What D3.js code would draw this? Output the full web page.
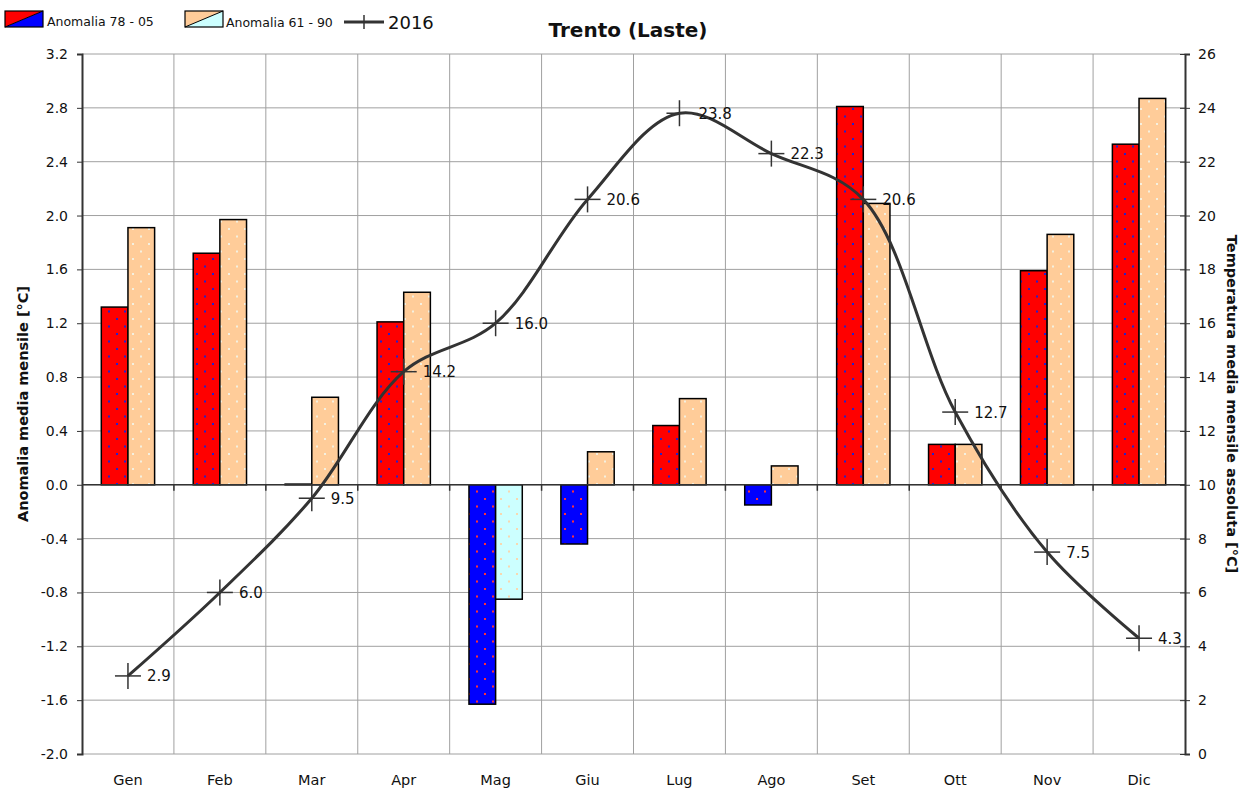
<!DOCTYPE html>
<html><head><meta charset="utf-8">
<script src="https://cdn.jsdelivr.net/npm/d3@7"></script>
<style>body{margin:0;background:#fff}svg{display:block;font-family:"DejaVu Sans",Verdana,sans-serif}</style>
</head><body><svg id="c" width="1241" height="790"></svg>
<script>
const months = ["Gen","Feb","Mar","Apr","Mag","Giu","Lug","Ago","Set","Ott","Nov","Dic"];
const anom7805 = [1.32, 1.72, 0.005, 1.21, -1.63, -0.44, 0.44, -0.15, 2.81, 0.30, 1.59, 2.53];
const anom6190 = [1.91, 1.97, 0.65, 1.43, -0.85, 0.245, 0.64, 0.14, 2.09, 0.30, 1.86, 2.87];
const temp2016 = [2.9, 6.0, 9.5, 14.2, 16.0, 20.6, 23.8, 22.3, 20.6, 12.7, 7.5, 4.3];
const leftTicks = [-2.0,-1.6,-1.2,-0.8,-0.4,0.0,0.4,0.8,1.2,1.6,2.0,2.4,2.8,3.2];
const rightTicks = [0,2,4,6,8,10,12,14,16,18,20,22,24,26];

const svg = d3.select("#c");
const L = 82, R = 1185, T = 54, B = 754;
const x = d3.scaleBand().domain(months).range([L, R]);
const yL = d3.scaleLinear().domain([-2.0, 3.2]).range([B, T]);
const yR = d3.scaleLinear().domain([0, 26]).range([B, T]);

// patterns
const defs = svg.append("defs");
function pat(id, bg, dot) {
  const p = defs.append("pattern").attr("id", id).attr("patternUnits","userSpaceOnUse")
    .attr("width", 16).attr("height", 15);
  p.append("rect").attr("width",16).attr("height",15).attr("fill",bg);
  p.append("rect").attr("x",4).attr("y",3).attr("width",2).attr("height",2).attr("fill",dot);
  p.append("rect").attr("x",12).attr("y",10.5).attr("width",2).attr("height",2).attr("fill",dot);
}
pat("pRed", "#FF0000", "#2222CC");
pat("pBlue", "#0000FF", "#FF3333");
pat("pPeach", "#FFCC99", "#F4F0E0");
pat("pCyan", "#CCFFFF", "#F8D8B0");

// grid
const g = svg.append("g");
g.selectAll("line.h").data(leftTicks).join("line")
  .attr("x1", L).attr("x2", R).attr("y1", d => yL(d)).attr("y2", d => yL(d))
  .attr("stroke", "#a0a0a0").attr("stroke-width", 1);
g.selectAll("line.v").data(months.slice(1)).join("line")
  .attr("x1", d => x(d)).attr("x2", d => x(d)).attr("y1", T).attr("y2", B)
  .attr("stroke", "#a0a0a0").attr("stroke-width", 1);

// bars
const bw = x.bandwidth() * 0.29;
const bars = svg.append("g");
bars.selectAll("rect.a").data(months).join("rect")
  .attr("x", d => x(d) + x.bandwidth()/2 - bw)
  .attr("y", (d,i) => yL(Math.max(0, anom7805[i])))
  .attr("width", bw)
  .attr("height", (d,i) => Math.abs(yL(anom7805[i]) - yL(0)))
  .attr("fill", (d,i) => anom7805[i] < 0 ? "url(#pBlue)" : "url(#pRed)")
  .attr("stroke", "#000").attr("stroke-width", 1.5);
bars.selectAll("rect.b").data(months).join("rect")
  .attr("x", d => x(d) + x.bandwidth()/2)
  .attr("y", (d,i) => yL(Math.max(0, anom6190[i])))
  .attr("width", bw)
  .attr("height", (d,i) => Math.abs(yL(anom6190[i]) - yL(0)))
  .attr("fill", (d,i) => anom6190[i] < 0 ? "url(#pCyan)" : "url(#pPeach)")
  .attr("stroke", "#000").attr("stroke-width", 1.5);

// zero axis
svg.append("line").attr("x1", L).attr("x2", R).attr("y1", yL(0)).attr("y2", yL(0))
  .attr("stroke", "#333").attr("stroke-width", 1.5);
svg.append("g").selectAll("line").data(months.slice(1)).join("line")
  .attr("x1", d => x(d)).attr("x2", d => x(d)).attr("y1", yL(0)).attr("y2", yL(0)+6)
  .attr("stroke", "#333").attr("stroke-width", 1.5);

const fmt = d => d.toFixed(1);
// left axis
const axL = svg.append("g").attr("transform", `translate(${L},0)`)
  .call(d3.axisLeft(yL).tickValues(leftTicks).tickFormat(fmt).tickSize(5).tickPadding(9));
axL.select(".domain").attr("stroke", "#333").attr("stroke-width", 2);
axL.selectAll(".tick line").attr("stroke", "#333");
axL.selectAll("text").attr("font-size", 14).attr("fill", "#111").attr("font-family", "DejaVu Sans");

// right axis
const axR = svg.append("g").attr("transform", `translate(${R},0)`)
  .call(d3.axisRight(yR).tickValues(rightTicks).tickSize(5).tickPadding(8));
axR.select(".domain").attr("stroke", "#333").attr("stroke-width", 2);
axR.selectAll(".tick line").attr("stroke", "#333").attr("x1", -5);
axR.selectAll("text").attr("font-size", 14).attr("fill", "#111").attr("font-family", "DejaVu Sans");

// month labels
svg.append("g").selectAll("text").data(months).join("text")
  .attr("x", d => x(d) + x.bandwidth()/2).attr("y", 785)
  .attr("text-anchor", "middle").attr("font-size", 14.5).attr("fill", "#111").text(d => d);

// line
const pts = months.map((m,i) => [x(m) + x.bandwidth()/2, yR(temp2016[i])]);
svg.append("path").attr("d", d3.line().curve(d3.curveCatmullRom.alpha(0.5))(pts))
  .attr("fill", "none").attr("stroke", "#333").attr("stroke-width", 3);
const mk = svg.append("g");
pts.forEach((p,i) => {
  mk.append("line").attr("x1", p[0]-13).attr("x2", p[0]+13).attr("y1", p[1]).attr("y2", p[1]).attr("stroke","#333").attr("stroke-width",1.5);
  mk.append("line").attr("x1", p[0]).attr("x2", p[0]).attr("y1", p[1]-13).attr("y2", p[1]+13).attr("stroke","#333").attr("stroke-width",1.5);
  mk.append("text").attr("x", p[0]+19).attr("y", p[1]+5.5).attr("font-size", 15).attr("fill","#111")
    .text(temp2016[i].toFixed(1));
});

// titles
svg.append("text").attr("x", 628).attr("y", 37).attr("text-anchor","middle")
  .attr("font-size", 20).attr("font-weight","bold").attr("fill","#111").text("Trento (Laste)");
svg.append("text").attr("transform", `translate(28,${(T+B)/2}) rotate(-90)`).attr("text-anchor","middle")
  .attr("font-size", 14.5).attr("font-weight","bold").attr("fill","#111").text("Anomalia media mensile [°C]");
svg.append("text").attr("transform", `translate(1227,${(T+B)/2}) rotate(90)`).attr("text-anchor","middle")
  .attr("font-size", 14.5).attr("font-weight","bold").attr("fill","#111").text("Temperatura media mensile assoluta [°C]");

// legend
const lg = svg.append("g");
function swatch(x0, c1, c2) {
  lg.append("path").attr("d", `M${x0},11 L${x0+38},11 L${x0},27 Z`).attr("fill", c1);
  lg.append("path").attr("d", `M${x0+38},11 L${x0+38},27 L${x0},27 Z`).attr("fill", c2);
  lg.append("line").attr("x1", x0).attr("y1", 27).attr("x2", x0+38).attr("y2", 11).attr("stroke","#000").attr("stroke-width",1);
  lg.append("rect").attr("x", x0).attr("y", 11).attr("width", 38).attr("height", 16).attr("fill","none").attr("stroke","#000").attr("stroke-width",1.2);
}
swatch(5, "#FF0000", "#0000FF");
lg.append("text").attr("x", 47).attr("y", 26).attr("font-size", 12.5).attr("fill","#111").text("Anomalia 78 - 05");
swatch(185, "#FFCC99", "#CCFFFF");
lg.append("text").attr("x", 226).attr("y", 27).attr("font-size", 12.5).attr("fill","#111").text("Anomalia 61 - 90");
lg.append("line").attr("x1", 344).attr("x2", 384).attr("y1", 22).attr("y2", 22).attr("stroke","#333").attr("stroke-width",3);
lg.append("line").attr("x1", 364).attr("x2", 364).attr("y1", 15).attr("y2", 29).attr("stroke","#333").attr("stroke-width",1.5);
lg.append("text").attr("x", 388).attr("y", 29).attr("font-size", 18).attr("fill","#111").text("2016");
</script></body></html>
